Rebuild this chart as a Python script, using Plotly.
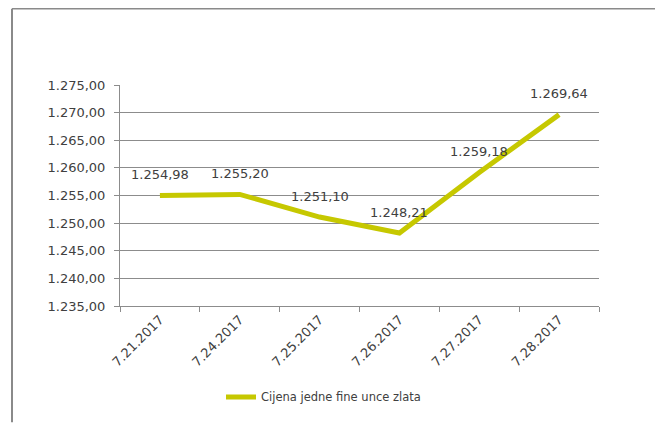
import plotly.graph_objects as go

dates = ["7.21.2017", "7.24.2017", "7.25.2017", "7.26.2017", "7.27.2017", "7.28.2017"]
prices = [1254.98, 1255.20, 1251.10, 1248.21, 1259.18, 1269.64]
series_name = "Cijena jedne fine unce zlata"
y_ticks = [1235, 1240, 1245, 1250, 1255, 1260, 1265, 1270, 1275]

LINE = "#C6C800"
TXT = "#404040"
GRID = "#8C8C8C"
FONT = "DejaVu Sans"

W, H = 658, 423
L, R, T, B = 120, 59, 85, 112
pw, ph = W - L - R, H - T - B

def px_x(p):
    return (p - L) / pw

def px_y(p):
    return (H - B - p) / ph

fig = go.Figure()
fig.add_trace(go.Scatter(
    x=dates, y=prices, mode="lines", name=series_name,
    line=dict(color=LINE, width=5),
    hoverinfo="skip",
))

for d, v in zip(dates, prices):
    fig.add_annotation(
        x=d, y=v, text=f"{v:,.2f}".replace(",", "X").replace(".", ",").replace("X", "."),
        showarrow=False, yshift=21, font=dict(family=FONT, size=13, color=TXT),
    )

# outer frame
fig.add_shape(type="line", xref="paper", yref="paper",
              x0=px_x(12), x1=px_x(655), y0=px_y(7), y1=px_y(7),
              line=dict(color="#8a8a8a", width=1.5))
fig.add_shape(type="line", xref="paper", yref="paper",
              x0=px_x(12), x1=px_x(12), y0=px_y(7), y1=px_y(430),
              line=dict(color="#8a8a8a", width=2))

fig.update_layout(
    width=W, height=H,
    margin=dict(l=L, r=R, t=T, b=B),
    paper_bgcolor="white", plot_bgcolor="white",
    separators=",.",
    font=dict(family=FONT, size=12, color=TXT),
    showlegend=True,
    legend=dict(orientation="h", x=px_x(221), y=px_y(404), xanchor="left", yanchor="middle",
                font=dict(family=FONT, size=11.5, color=TXT), bgcolor="rgba(0,0,0,0)"),
    xaxis=dict(
        type="category", tickangle=-45, tickson="boundaries",
        ticks="outside", ticklen=5, tickcolor=GRID,
        showline=True, linecolor=GRID, linewidth=1,
        showgrid=False, tickfont=dict(family=FONT, size=13, color=TXT),
        range=[-0.5, len(dates) - 0.5],
    ),
    yaxis=dict(
        range=[1235, 1275], tickvals=y_ticks, tickformat=",.2f",
        ticks="outside", ticklen=5, tickcolor=GRID,
        showline=True, linecolor=GRID, linewidth=1,
        showgrid=True, gridcolor=GRID, gridwidth=1,
        tickfont=dict(family=FONT, size=13, color=TXT),
        ticklabelstandoff=6,
        zeroline=False,
    ),
)

fig.write_html("out.html", config={"displayModeBar": False},
               post_script="document.body.style.margin='0';")
